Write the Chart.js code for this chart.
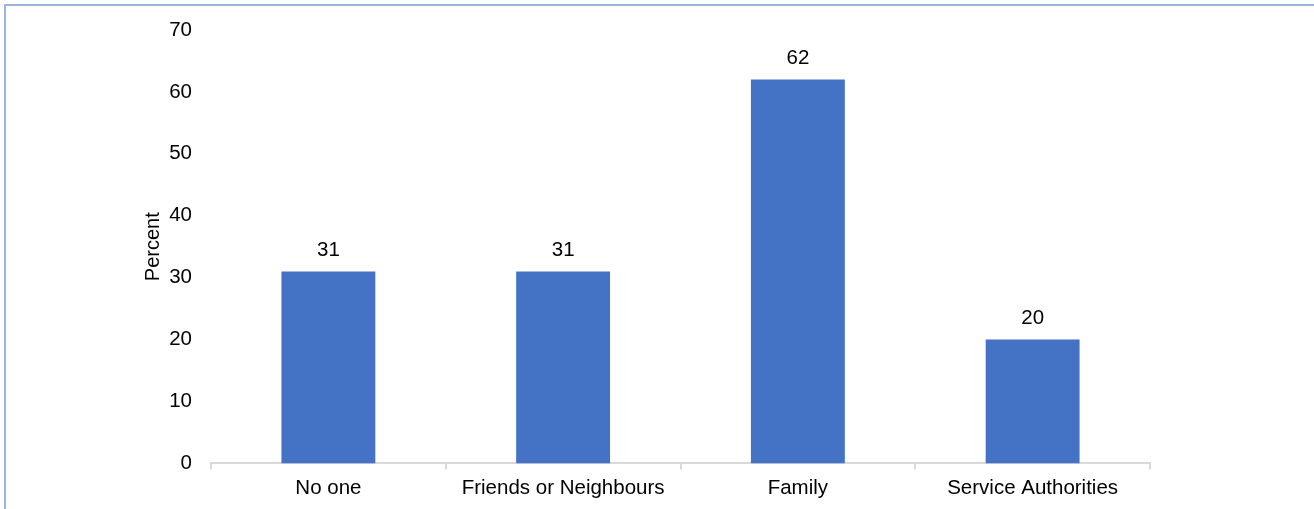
<!DOCTYPE html>
<html>
<head>
<meta charset="utf-8">
<script src="https://cdn.jsdelivr.net/npm/chart.js@4"></script>
<style>
  html, body { margin: 0; padding: 0; background: #fff; }
  #wrap { width: 1314px; height: 509px; position: relative; }
</style>
</head>
<body>
<div id="wrap"><canvas id="bar"></canvas></div>
<script>
var categories = ["No one", "Friends or Neighbours", "Family", "Service Authorities"];
var percents = [31, 31, 62, 20];
var yTicks = [0, 10, 20, 30, 40, 50, 60, 70];

var FONT = "'Liberation Sans', Arial, sans-serif";

// value labels above each bar
var barLabels = {
    id: "barLabels",
    afterDatasetsDraw: function(chart) {
        var ctx = chart.ctx;
        var meta = chart.getDatasetMeta(0);
        ctx.save();
        ctx.font = "20.5px " + FONT;
        ctx.fillStyle = "#000";
        ctx.textAlign = "center";
        ctx.textBaseline = "bottom";
        meta.data.forEach(function(bar, i) {
            ctx.fillText(String(percents[i]), bar.x, bar.y - 11);
        });
        ctx.restore();
    }
};

// thin frame on top and left edges
var frame = {
    id: "frame",
    beforeDraw: function(chart) {
        var ctx = chart.ctx;
        ctx.save();
        ctx.strokeStyle = "#9db3dd";
        ctx.lineWidth = 2;
        ctx.beginPath();
        ctx.moveTo(5, chart.height);
        ctx.lineTo(5, 5);
        ctx.lineTo(chart.width, 5);
        ctx.stroke();
        ctx.restore();
    }
};

var ctx = document.getElementById("bar").getContext("2d");
var chart = new Chart(ctx, {
    type: "bar",
    data: {
        labels: categories,
        datasets: [{
            data: percents,
            backgroundColor: "#4472c4",
            categoryPercentage: 0.4,
            barPercentage: 1.0
        }]
    },
    options: {
        responsive: true,
        maintainAspectRatio: false,
        animation: false,
        layout: { padding: { left: 141, right: 164, top: 30, bottom: 1 } },
        plugins: { legend: { display: false }, tooltip: { enabled: false } },
        scales: {
            x: {
                grid: { display: true, drawOnChartArea: false, drawTicks: true, tickLength: 6, color: "#d9d9d9", lineWidth: 2, offset: true },
                border: { display: true, color: "#d9d9d9", width: 2 },
                ticks: { color: "#000", font: { family: FONT, size: 20.5, lineHeight: 1.1 }, padding: 8, maxRotation: 0 }
            },
            y: {
                min: 0,
                max: 70,
                afterBuildTicks: function(scale) {
                    scale.ticks = yTicks.map(function(v) { return { value: v }; });
                },
                afterFit: function(scale) { scale.width = 70; },
                grid: { display: false },
                border: { display: false },
                ticks: { color: "#000", font: { family: FONT, size: 20.5 }, padding: 11 },
                title: { display: true, text: "Percent", color: "#000", font: { family: FONT, size: 20 }, padding: 0 }
            }
        }
    },
    plugins: [frame, barLabels]
});
</script>
</body>
</html>
